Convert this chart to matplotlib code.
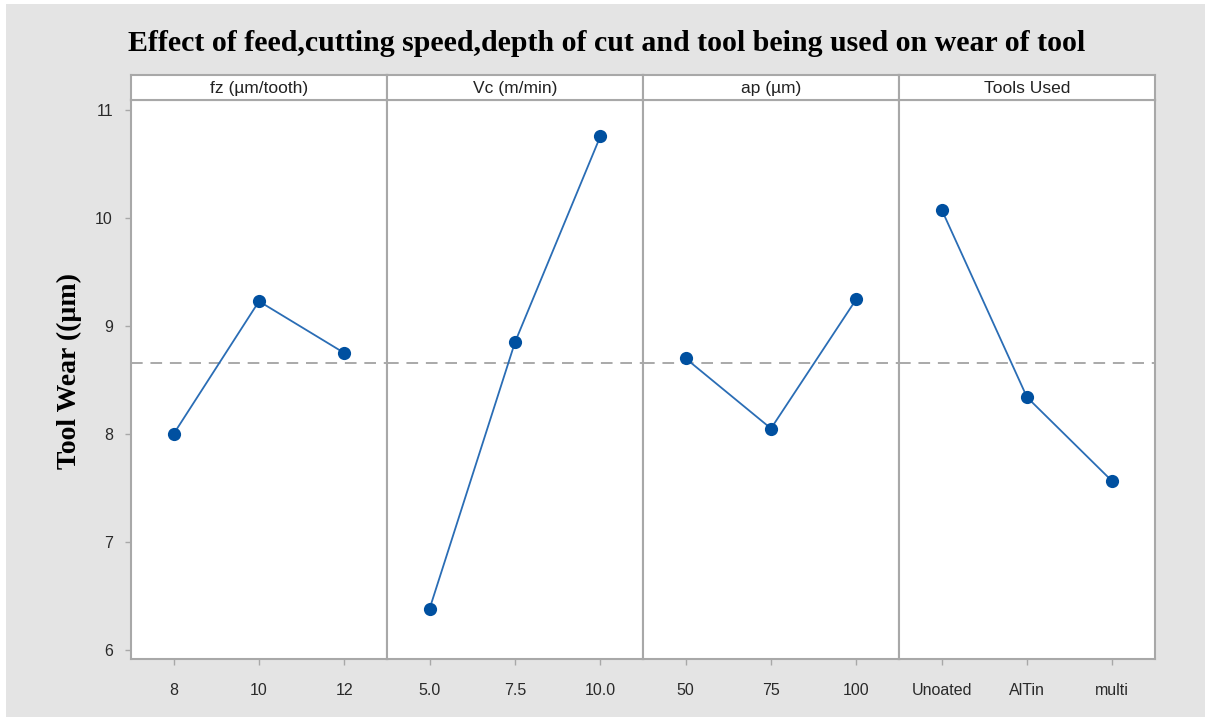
import matplotlib
matplotlib.use("Agg")
import matplotlib.pyplot as plt
from matplotlib.patches import Rectangle

# Main-effects data: mean tool wear (µm) at each factor level
factor_titles = ["fz (µm/tooth)", "Vc (m/min)", "ap (µm)", "Tools Used"]
fz_levels = ["8", "10", "12"]
fz_wear = [8.00, 9.23, 8.75]
vc_levels = ["5.0", "7.5", "10.0"]
vc_wear = [6.38, 8.85, 10.76]
ap_levels = ["50", "75", "100"]
ap_wear = [8.70, 8.05, 9.25]
tool_levels = ["Unoated", "AlTin", "multi"]
tool_wear = [10.08, 8.34, 7.56]
grand_mean = 8.66
y_ticks = [6, 7, 8, 9, 10, 11]

levels = [fz_levels, vc_levels, ap_levels, tool_levels]
wear = [fz_wear, vc_wear, ap_wear, tool_wear]

W, H = 1205, 717
fig = plt.figure(figsize=(W / 100, H / 100), dpi=100, facecolor="white")
fig.patches.append(Rectangle((6 / W, 0), 1 - 6 / W, 1 - 4 / H,
                             transform=fig.transFigure, facecolor="#e4e4e4",
                             edgecolor="none", zorder=-10))

frame_col = "#a8a8a8"
sans = ["Liberation Sans Narrow", "Liberation Sans", "DejaVu Sans"]
serif = ["Liberation Serif", "DejaVu Serif"]

left_px, right_px = 131, 1155
top_px, bottom_px, strip_top_px = 100, 659, 75
panel_w = (right_px - left_px) / 4

for i in range(4):
    x0 = (left_px + i * panel_w) / W
    ax = fig.add_axes([x0, 1 - bottom_px / H, panel_w / W, (bottom_px - top_px) / H])
    xs = list(range(len(levels[i])))
    ax.axhline(grand_mean, color="#a9a9a9", lw=1.4, ls=(0, (6, 4)), zorder=1)
    ax.plot(xs, wear[i], color="#2a6db5", lw=1.3, zorder=2)
    ax.plot(xs, wear[i], ls="none", marker="o", ms=9.5, color="#0050a0",
            markeredgewidth=0, zorder=3)
    ax.set_xlim(-0.5, 2.5)
    ax.set_ylim(5.912, 11.097)
    ax.set_xticks(xs)
    ax.set_xticklabels(levels[i], family=sans, fontsize=11.5, color="#2a2a2a")
    ax.set_yticks(y_ticks)
    if i == 0:
        ax.set_yticklabels([str(t) for t in y_ticks], family=sans, fontsize=11.5,
                           color="#2a2a2a")
    else:
        ax.tick_params(axis="y", left=False, labelleft=False)
    ax.tick_params(axis="both", direction="out", length=4, width=1,
                   color=frame_col, pad=9)
    ax.tick_params(axis="x", pad=13)
    for s in ax.spines.values():
        s.set_color(frame_col)
        s.set_linewidth(1.5)
    ax.set_facecolor("white")

    # strip header for the factor
    sax = fig.add_axes([x0, 1 - top_px / H, panel_w / W, (top_px - strip_top_px) / H])
    sax.set_xticks([])
    sax.set_yticks([])
    sax.set_facecolor("white")
    for s in sax.spines.values():
        s.set_color(frame_col)
        s.set_linewidth(1.5)
    sax.text(0.5, 0.45, factor_titles[i], ha="center", va="center",
             transform=sax.transAxes, family=sans, fontsize=12.5, color="#222222")

fig.text(607 / W, 1 - 51 / H,
         "Effect of feed,cutting speed,depth of cut and tool being used on wear of tool",
         ha="center", va="baseline", family=serif, fontweight="bold", fontsize=21.5)
fig.text(69 / W, 1 - 371 / H, "Tool Wear ((µm)", rotation=90, ha="center",
         va="center", family=serif, fontweight="bold", fontsize=20)

fig.savefig("out.png", dpi=100, facecolor=fig.get_facecolor())
